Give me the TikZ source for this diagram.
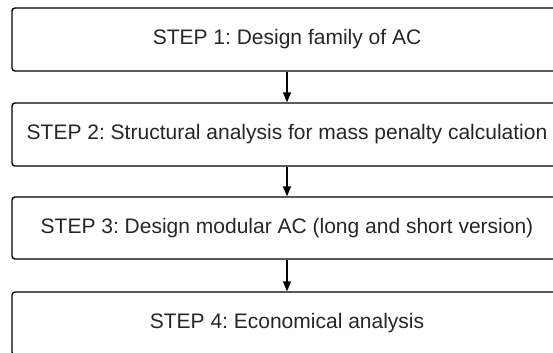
\documentclass[tikz,border=0pt]{standalone}
\usepackage{fontspec}
\setmainfont{Liberation Sans}
\usetikzlibrary{arrows.meta}
\begin{document}
\frenchspacing
\begin{tikzpicture}[x=1bp,y=-1bp,
  stepbox/.style={draw=black, line width=1.4bp, rounded corners=3bp,
    minimum width=550bp, minimum height=63bp, inner sep=0pt,
    font=\fontsize{21bp}{24bp}\selectfont, text=black!85},
  flow/.style={draw=black, line width=1.4bp, -{Triangle[length=10bp,width=8bp]}}]
  \useasboundingbox (0,0) rectangle (553,352);
  \clip (0,0) rectangle (553,352);
  \node[stepbox] (s1) at (287,39.5) {STEP 1: Design family of AC};
  \node[stepbox] (s2) at (287,134.5) {STEP 2: Structural analysis for mass penalty calculation};
  \node[stepbox, minimum height=62bp] (s3) at (287,228) {STEP 3: Design modular AC (long and short version)};
  \node[stepbox] (s4) at (287,323.5) {STEP 4: Economical analysis};
  \draw[flow] (s1) -- (s2);
  \draw[flow] (s2) -- (s3);
  \draw[flow] (s3) -- (s4);
\end{tikzpicture}
\end{document}
